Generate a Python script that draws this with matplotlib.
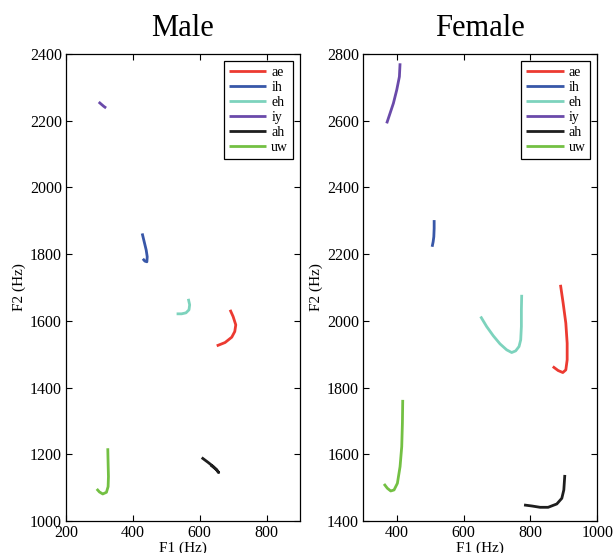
import matplotlib.pyplot as plt
import matplotlib
matplotlib.rcParams['font.family'] = ['Liberation Serif', 'DejaVu Serif']
matplotlib.rcParams['font.size'] = 11

vowels = ['ae', 'ih', 'eh', 'iy', 'ah', 'uw']
colors = {
    'ae': '#EC3A31',
    'ih': '#3857A8',
    'eh': '#7DD3BD',
    'iy': '#6A4AAA',
    'ah': '#1E1E1E',
    'uw': '#73C043',
}

# formant trajectories (F1, F2) in Hz, male speakers
male_f1 = {
    'ae': [691, 700, 708, 705, 696, 676, 651],
    'ih': [428, 434, 440, 443, 442, 436, 430],
    'eh': [566, 570, 568, 559, 546, 531],
    'iy': [298, 306, 313, 320],
    'ah': [606, 626, 641, 651, 657, 650, 633],
    'uw': [325, 326, 327, 326, 321, 310, 300, 292],
}
male_f2 = {
    'ae': [1633, 1613, 1588, 1568, 1551, 1535, 1525],
    'ih': [1862, 1837, 1812, 1792, 1777, 1779, 1786],
    'eh': [1666, 1648, 1633, 1624, 1621, 1621],
    'iy': [2256, 2249, 2243, 2238],
    'ah': [1190, 1175, 1163, 1153, 1145, 1154, 1168],
    'uw': [1218, 1173, 1133, 1103, 1086, 1081, 1087, 1096],
}

# formant trajectories (F1, F2) in Hz, female speakers
female_f1 = {
    'ae': [890, 898, 906, 910, 910, 906, 897, 883, 867],
    'ih': [512, 512, 511, 509, 506],
    'eh': [651, 669, 689, 709, 729, 744, 756, 766, 771, 773, 773, 774],
    'iy': [410, 408, 400, 390, 380, 370],
    'ah': [903, 900, 894, 879, 853, 829, 804, 781],
    'uw': [418, 417, 415, 410, 402, 392, 382, 372, 362],
}
female_f2 = {
    'ae': [2108, 2053, 1993, 1933, 1883, 1853, 1845, 1851, 1863],
    'ih': [2302, 2277, 2252, 2237, 2222],
    'eh': [2013, 1983, 1955, 1931, 1913, 1905, 1910, 1923, 1943, 1983, 2033, 2078],
    'iy': [2772, 2732, 2692, 2652, 2622, 2592],
    'ah': [1538, 1493, 1468, 1451, 1441, 1441, 1445, 1448],
    'uw': [1763, 1693, 1623, 1563, 1513, 1493, 1490, 1498, 1511],
}

panels = [
    ('Male', male_f1, male_f2, (200, 900), (1000, 2400), [200, 400, 600, 800], range(1000, 2401, 200)),
    ('Female', female_f1, female_f2, (300, 1000), (1400, 2800), [400, 600, 800, 1000], range(1400, 2801, 200)),
]

fig = plt.figure(figsize=(6.14, 5.53), dpi=100)
lefts = [0.1075, 0.5917]

for left, (title, f1, f2, xlim, ylim, xt, yt) in zip(lefts, panels):
    ax = fig.add_axes([left, 0.0579, 0.381, 0.8445])
    for v in vowels:
        ax.plot(f1[v], f2[v], color=colors[v], linewidth=2, label=v,
                solid_capstyle='butt')
    ax.set_xlim(*xlim)
    ax.set_ylim(*ylim)
    ax.set_xticks(xt)
    ax.set_yticks(list(yt))
    ax.tick_params(direction='in', top=True, right=True, length=4, width=0.8,
                   labelsize=11.5, pad=3)
    for s in ax.spines.values():
        s.set_linewidth(0.9)
    ax.set_xlabel('F1 (Hz)', fontsize=11, labelpad=0.5)
    ax.set_ylabel('F2 (Hz)', fontsize=11, labelpad=3)
    ax.set_title(title, fontsize=22, pad=13)
    leg = ax.legend(loc='upper right', fancybox=False, edgecolor='black',
                    framealpha=1, fontsize=10, handlelength=2.7,
                    handletextpad=0.35, labelspacing=0.15,
                    borderaxespad=0.5, borderpad=0.35)
    leg.get_frame().set_linewidth(0.9)

fig.savefig('out.png', dpi=100)
